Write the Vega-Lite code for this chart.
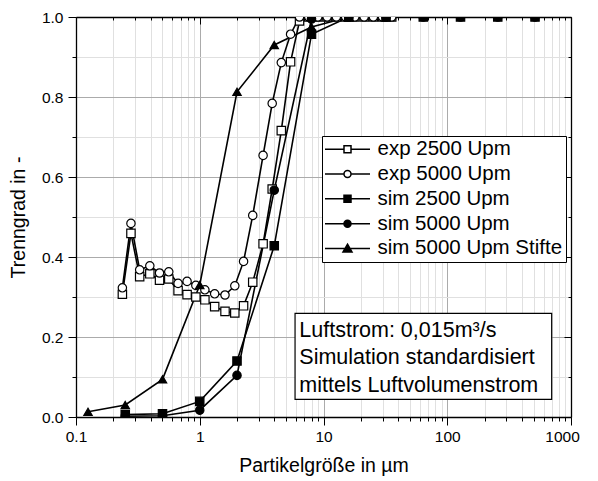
{
  "$schema": "https://vega.github.io/schema/vega-lite/v6.json",
  "width": 495,
  "height": 400,
  "autosize": "none",
  "padding": {"left": 76, "top": 17, "right": 27, "bottom": 64},
  "background": "white",
  "config": {
    "font": "Liberation Sans",
    "view": {"stroke": null},
    "axis": {"labelColor": "black", "titleColor": "black", "domainColor": "black", "tickColor": "black", "labelFont": "Liberation Sans", "titleFont": "Liberation Sans", "titleFontWeight": "normal", "labelFlush": false},
    "legend": {
      "title": null,
      "orient": "none",
      "legendX": 246,
      "legendY": 119,
      "strokeColor": "black",
      "fillColor": "white",
      "padding": 3,
      "rowPadding": 3.8,
      "symbolSize": 100,
      "symbolStrokeWidth": 1.5,
      "symbolStrokeColor": "black",
      "symbolOffset": 12.25,
      "labelOffset": 19.75,
      "labelFontSize": 20.5,
      "labelFont": "Liberation Sans",
      "labelColor": "black",
      "labelLimit": 400
    }
  },
  "datasets": {
    "curves": [
      {"series": "exp 2500 Upm", "x": 0.237, "y": 0.307},
      {"series": "exp 2500 Upm", "x": 0.278, "y": 0.459},
      {"series": "exp 2500 Upm", "x": 0.327, "y": 0.351},
      {"series": "exp 2500 Upm", "x": 0.395, "y": 0.358},
      {"series": "exp 2500 Upm", "x": 0.473, "y": 0.342},
      {"series": "exp 2500 Upm", "x": 0.562, "y": 0.345},
      {"series": "exp 2500 Upm", "x": 0.668, "y": 0.316},
      {"series": "exp 2500 Upm", "x": 0.79, "y": 0.306},
      {"series": "exp 2500 Upm", "x": 0.93, "y": 0.3},
      {"series": "exp 2500 Upm", "x": 1.1, "y": 0.293},
      {"series": "exp 2500 Upm", "x": 1.32, "y": 0.276},
      {"series": "exp 2500 Upm", "x": 1.6, "y": 0.264},
      {"series": "exp 2500 Upm", "x": 1.92, "y": 0.26},
      {"series": "exp 2500 Upm", "x": 2.26, "y": 0.278},
      {"series": "exp 2500 Upm", "x": 2.68, "y": 0.337},
      {"series": "exp 2500 Upm", "x": 3.25, "y": 0.433},
      {"series": "exp 2500 Upm", "x": 3.85, "y": 0.57},
      {"series": "exp 2500 Upm", "x": 4.56, "y": 0.716},
      {"series": "exp 2500 Upm", "x": 5.42, "y": 0.888},
      {"series": "exp 2500 Upm", "x": 6.4, "y": 0.99},
      {"series": "exp 2500 Upm", "x": 7.6, "y": 1.0},
      {"series": "exp 2500 Upm", "x": 9.0, "y": 1.0},
      {"series": "exp 2500 Upm", "x": 10.7, "y": 1.0},
      {"series": "exp 2500 Upm", "x": 12.7, "y": 1.0},
      {"series": "exp 2500 Upm", "x": 15.1, "y": 1.0},
      {"series": "exp 2500 Upm", "x": 17.9, "y": 1.0},
      {"series": "exp 2500 Upm", "x": 21.3, "y": 1.0},
      {"series": "exp 2500 Upm", "x": 25.3, "y": 1.0},
      {"series": "exp 2500 Upm", "x": 30.0, "y": 1.0},
      {"series": "exp 2500 Upm", "x": 35.6, "y": 1.0},
      {"series": "exp 5000 Upm", "x": 0.237, "y": 0.323},
      {"series": "exp 5000 Upm", "x": 0.278, "y": 0.484},
      {"series": "exp 5000 Upm", "x": 0.327, "y": 0.368},
      {"series": "exp 5000 Upm", "x": 0.395, "y": 0.378},
      {"series": "exp 5000 Upm", "x": 0.473, "y": 0.36},
      {"series": "exp 5000 Upm", "x": 0.562, "y": 0.363},
      {"series": "exp 5000 Upm", "x": 0.668, "y": 0.334},
      {"series": "exp 5000 Upm", "x": 0.79, "y": 0.339},
      {"series": "exp 5000 Upm", "x": 0.93, "y": 0.329},
      {"series": "exp 5000 Upm", "x": 1.1, "y": 0.318},
      {"series": "exp 5000 Upm", "x": 1.32, "y": 0.308},
      {"series": "exp 5000 Upm", "x": 1.6, "y": 0.305},
      {"series": "exp 5000 Upm", "x": 1.92, "y": 0.328},
      {"series": "exp 5000 Upm", "x": 2.26, "y": 0.389},
      {"series": "exp 5000 Upm", "x": 2.68, "y": 0.504},
      {"series": "exp 5000 Upm", "x": 3.25, "y": 0.654},
      {"series": "exp 5000 Upm", "x": 3.85, "y": 0.784},
      {"series": "exp 5000 Upm", "x": 4.56, "y": 0.886},
      {"series": "exp 5000 Upm", "x": 5.42, "y": 0.957},
      {"series": "exp 5000 Upm", "x": 6.4, "y": 1.0},
      {"series": "exp 5000 Upm", "x": 7.6, "y": 1.0},
      {"series": "exp 5000 Upm", "x": 9.0, "y": 1.0},
      {"series": "exp 5000 Upm", "x": 10.7, "y": 1.0},
      {"series": "exp 5000 Upm", "x": 12.7, "y": 1.0},
      {"series": "exp 5000 Upm", "x": 15.1, "y": 1.0},
      {"series": "exp 5000 Upm", "x": 17.9, "y": 1.0},
      {"series": "exp 5000 Upm", "x": 21.3, "y": 1.0},
      {"series": "exp 5000 Upm", "x": 25.3, "y": 1.0},
      {"series": "exp 5000 Upm", "x": 30.0, "y": 1.0},
      {"series": "exp 5000 Upm", "x": 35.6, "y": 1.0},
      {"series": "sim 2500 Upm", "x": 0.25, "y": 0.006},
      {"series": "sim 2500 Upm", "x": 0.5, "y": 0.008},
      {"series": "sim 2500 Upm", "x": 1, "y": 0.039},
      {"series": "sim 2500 Upm", "x": 2, "y": 0.14},
      {"series": "sim 2500 Upm", "x": 4, "y": 0.428},
      {"series": "sim 2500 Upm", "x": 8, "y": 0.957},
      {"series": "sim 2500 Upm", "x": 16, "y": 1.0},
      {"series": "sim 2500 Upm", "x": 32, "y": 1.0},
      {"series": "sim 2500 Upm", "x": 64, "y": 1.0},
      {"series": "sim 2500 Upm", "x": 128, "y": 1.0},
      {"series": "sim 2500 Upm", "x": 256, "y": 1.0},
      {"series": "sim 2500 Upm", "x": 512, "y": 1.0},
      {"series": "sim 5000 Upm Stifte", "x": 0.125, "y": 0.013},
      {"series": "sim 5000 Upm Stifte", "x": 0.25, "y": 0.03},
      {"series": "sim 5000 Upm Stifte", "x": 0.5, "y": 0.094},
      {"series": "sim 5000 Upm Stifte", "x": 1, "y": 0.33},
      {"series": "sim 5000 Upm Stifte", "x": 2, "y": 0.813},
      {"series": "sim 5000 Upm Stifte", "x": 4, "y": 0.93},
      {"series": "sim 5000 Upm Stifte", "x": 8, "y": 0.975},
      {"series": "sim 5000 Upm Stifte", "x": 16, "y": 1.0},
      {"series": "sim 5000 Upm", "x": 0.25, "y": 0.002},
      {"series": "sim 5000 Upm", "x": 0.5, "y": 0.003},
      {"series": "sim 5000 Upm", "x": 1, "y": 0.017},
      {"series": "sim 5000 Upm", "x": 2, "y": 0.104},
      {"series": "sim 5000 Upm", "x": 4, "y": 0.567},
      {"series": "sim 5000 Upm", "x": 8, "y": 0.995},
      {"series": "sim 5000 Upm", "x": 16, "y": 1.0},
      {"series": "sim 5000 Upm", "x": 32, "y": 1.0},
      {"series": "sim 5000 Upm", "x": 64, "y": 1.0},
      {"series": "sim 5000 Upm", "x": 128, "y": 1.0},
      {"series": "sim 5000 Upm", "x": 256, "y": 1.0},
      {"series": "sim 5000 Upm", "x": 512, "y": 1.0}
    ],
    "note": [{"text": ["Luftstrom: 0,015m³/s", "Simulation standardisiert", "mittels Luftvolumenstrom"]}]
  },
  "data": {"name": "curves"},
  "layer": [
    {
      "mark": {"type": "line", "stroke": "black", "strokeWidth": 1.6, "clip": true},
      "encoding": {
        "x": {
          "field": "x", "type": "quantitative",
          "scale": {"type": "log", "domain": [0.1, 1000]},
          "axis": {
            "orient": "bottom",
            "title": "Partikelgröße in µm",
            "titleFontSize": 19.5,
            "titlePadding": 12,
            "values": [0.1,0.2,0.3,0.4,0.5,0.6,0.7,0.8,0.9,1,2,3,4,5,6,7,8,9,10,20,30,40,50,60,70,80,90,100,200,300,400,500,600,700,800,900,1000],
            "labelExpr": "datum.value == 0.1 ? '0.1' : datum.value == 1 ? '1' : datum.value == 10 ? '10' : datum.value == 100 ? '100' : datum.value == 1000 ? '1000' : ''",
            "labelFontSize": 15.5,
            "labelPadding": 4,
            "labelOverlap": false,
            "labelFlush": false,
            "labelOffset": {"condition": {"test": "datum.value == 1000", "value": -9}, "value": 0},
            "tickSize": {"condition": {"test": "indexof([0.1,1,10,100,1000], datum.value) >= 0", "value": 8}, "value": 4},
            "tickWidth": 1,
            "domainWidth": 1.3,
            "grid": true,
            "gridColor": {"condition": {"test": "indexof([0.1,1,10,100,1000], datum.value) >= 0", "value": "#ababab"}, "value": "#e0e0e0"},
            "gridWidth": 1,
            "gridOpacity": 1
          }
        },
        "y": {
          "field": "y", "type": "quantitative",
          "scale": {"domain": [0, 1]},
          "axis": {
            "orient": "left",
            "title": "Trenngrad in -",
            "titleFontSize": 19.5,
            "titlePadding": 13,
            "values": [0,0.1,0.2,0.3,0.4,0.5,0.6,0.7,0.8,0.9,1],
            "labelExpr": "indexof([0,0.2,0.4,0.6,0.8,1], datum.value) >= 0 ? format(datum.value, '.1f') : ''",
            "labelFontSize": 15.5,
            "labelPadding": 5,
            "labelOverlap": false,
            "labelFlush": false,
            "tickSize": {"condition": {"test": "indexof([0,0.2,0.4,0.6,0.8,1], datum.value) >= 0", "value": 8}, "value": 4},
            "tickWidth": 1,
            "domainWidth": 1.3,
            "grid": true,
            "gridColor": {"condition": {"test": "indexof([0,0.2,0.4,0.6,0.8,1], datum.value) >= 0", "value": "#ababab"}, "value": "#e0e0e0"},
            "gridWidth": 1,
            "gridOpacity": 1
          }
        },
        "detail": {"field": "series"}
      }
    },
    {
      "mark": {"type": "point", "filled": true, "stroke": "black", "strokeWidth": 1.2, "opacity": 1, "size": 70, "clip": true},
      "encoding": {
        "x": {
          "field": "x", "type": "quantitative",
          "scale": {"type": "log", "domain": [0.1, 1000]},
          "axis": {
            "orient": "top", "title": null, "labels": false, "grid": false,
            "values": [0.1,0.2,0.3,0.4,0.5,0.6,0.7,0.8,0.9,1,2,3,4,5,6,7,8,9,10,20,30,40,50,60,70,80,90,100,200,300,400,500,600,700,800,900,1000],
            "tickSize": {"condition": {"test": "indexof([0.1,1,10,100,1000], datum.value) >= 0", "value": -7}, "value": -3},
            "tickWidth": 1, "domainWidth": 1.3
          }
        },
        "y": {
          "field": "y", "type": "quantitative",
          "scale": {"domain": [0, 1]},
          "axis": {
            "orient": "right", "title": null, "labels": false, "grid": false,
            "values": [0,0.1,0.2,0.3,0.4,0.5,0.6,0.7,0.8,0.9,1],
            "tickSize": {"condition": {"test": "indexof([0,0.2,0.4,0.6,0.8,1], datum.value) >= 0", "value": -7}, "value": -3},
            "tickWidth": 1, "domainWidth": 1.3
          }
        },
        "shape": {
          "field": "series", "type": "nominal",
          "scale": {
            "domain": ["sim 5000 Upm Stifte", "exp 2500 Upm", "exp 5000 Upm", "sim 2500 Upm", "sim 5000 Upm"],
            "range": ["triangle-up", "square", "circle", "square", "circle"]
          },
          "legend": null
        },
        "fill": {
          "field": "series", "type": "nominal",
          "scale": {
            "domain": ["exp 2500 Upm", "exp 5000 Upm", "sim 2500 Upm", "sim 5000 Upm", "sim 5000 Upm Stifte"],
            "range": ["white", "white", "black", "black", "black"]
          },
          "legend": {
            "title": null,
            "encoding": {
              "symbols": {
                "stroke": {"value": "black"},
                "strokeWidth": {"value": 1.5},
                "shape": {
                  "condition": [
                    {"test": "datum.value == 'exp 2500 Upm'", "value": "M-4.5,0H-0.7M0.7,0H4.5M-0.7,-0.7H0.7V0.7H-0.7Z"},
                    {"test": "datum.value == 'exp 5000 Upm'", "value": "M-4.5,0H-0.7M0.7,0H4.5M-0.7,0A0.7,0.7,0,1,0,0.7,0A0.7,0.7,0,1,0,-0.7,0Z"},
                    {"test": "datum.value == 'sim 2500 Upm'", "value": "M-4.5,0H4.5M-0.7,-0.7H0.7V0.7H-0.7Z"},
                    {"test": "datum.value == 'sim 5000 Upm'", "value": "M-4.5,0H4.5M-0.7,0A0.7,0.7,0,1,0,0.7,0A0.7,0.7,0,1,0,-0.7,0Z"}
                  ],
                  "value": "M-4.5,0H4.5M0,-0.85L0.9,0.7H-0.9Z"
                }
              }
            }
          }
        }
      }
    },
    {
      "data": {"name": "note"},
      "mark": {"type": "rect", "fill": "white", "stroke": "black", "strokeWidth": 1.2},
      "encoding": {
        "x": {"datum": 5.89, "type": "quantitative", "scale": {"type": "log", "domain": [0.1, 1000]}, "axis": null},
        "x2": {"datum": 698},
        "y": {"datum": 0.259, "type": "quantitative", "scale": {"domain": [0, 1]}, "axis": null},
        "y2": {"datum": 0.044}
      }
    },
    {
      "data": {"name": "note"},
      "mark": {"type": "text", "align": "left", "baseline": "alphabetic", "fontSize": 21.5, "font": "Liberation Sans", "color": "black", "lineHeight": 27.3},
      "encoding": {
        "x": {"datum": 6.375, "type": "quantitative", "scale": {"type": "log", "domain": [0.1, 1000]}, "axis": null},
        "y": {"datum": 0.2, "type": "quantitative", "scale": {"domain": [0, 1]}, "axis": null},
        "text": {"field": "text"}
      }
    }
  ],
  "resolve": {"axis": {"x": "independent", "y": "independent"}}
}
